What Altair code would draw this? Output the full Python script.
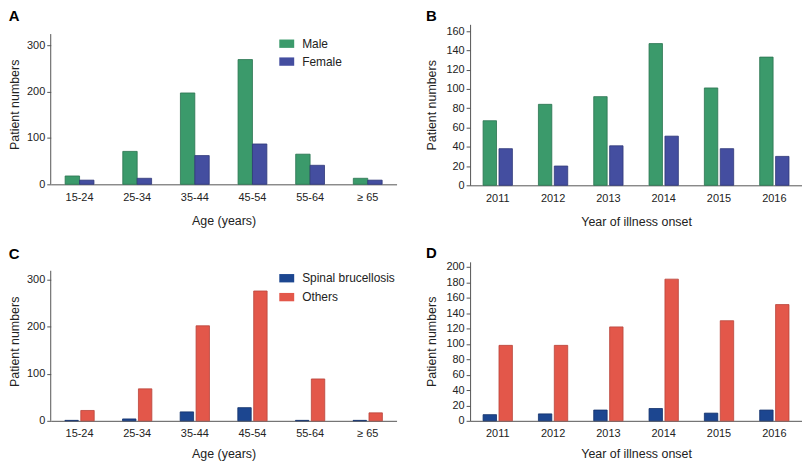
import altair as alt
import pandas as pd

FONT = "Liberation Sans"

age_groups = ["15-24", "25-34", "35-44", "45-54", "55-64", "≥ 65"]
years = ["2011", "2012", "2013", "2014", "2015", "2016"]

sex_names = ["Male", "Female"]
male_by_age = [18, 71, 197, 269, 65, 13]
female_by_age = [9, 13, 62, 87, 41, 9]
male_by_year = [67, 84, 92, 147, 101, 133]
female_by_year = [38, 20, 41, 51, 38, 30]

type_names = ["Spinal brucellosis", "Others"]
spinal_by_age = [1, 4, 19, 28, 1, 1]
others_by_age = [22, 68, 202, 276, 89, 17]
spinal_by_year = [8, 9, 14, 16, 10, 14]
others_by_year = [98, 98, 122, 184, 130, 151]

sex_colors = ["#3b9a6b", "#444ea0"]
sex_strokes = ["#2a7350", "#2f3878"]
type_colors = ["#1c4690", "#e3574a"]
type_strokes = ["#12306a", "#b8443a"]


def panel(cats, names, series, colors, strokes, ymax, ytop, yticks, xtitle,
          letter, width, height, bar_w, bar_shift, ytitle_pad, xtitle_pad, legend=None):
    rows = []
    for n, vals in zip(names, series):
        for c, v in zip(cats, vals):
            rows.append({"cat": c, "series": n, "value": v})
    df = pd.DataFrame(rows)
    base = alt.Chart(df)
    enc = dict(
        x=alt.X("cat:N", sort=cats,
                scale=alt.Scale(paddingInner=0, paddingOuter=0),
                axis=alt.Axis(title=xtitle, labelAngle=0, ticks=False, tickSize=0,
                              labelPadding=7, titlePadding=xtitle_pad)),
        y=alt.Y("value:Q", scale=alt.Scale(domain=[0, ymax], nice=False),
                axis=alt.Axis(values=yticks, title="Patient numbers",
                              domain=(ytop is None), tickSize=4, labelPadding=2,
                              titlePadding=ytitle_pad)),
        color=alt.Color("series:N", sort=names,
                        scale=alt.Scale(domain=names, range=colors),
                        legend=legend),
        stroke=alt.Stroke("series:N", sort=names,
                          scale=alt.Scale(domain=names, range=strokes),
                          legend=None),
    )
    layers = []
    for i, n in enumerate(names):
        shift = -bar_shift if i == 0 else bar_shift
        layers.append(
            base.transform_filter(alt.datum.series == n)
            .mark_bar(width=bar_w, xOffset=shift, strokeWidth=0.8)
            .encode(**enc)
        )
    if ytop is not None:
        axis_line = alt.Chart(pd.DataFrame({"d": [0]})).mark_rule(
            color="#555555", strokeWidth=1).encode(
            x=alt.value(0), y=alt.datum(0), y2=alt.datum(ytop))
        layers.append(axis_line)
    return alt.layer(*layers).properties(
        width=width, height=height,
        title=alt.TitleParams(letter, anchor="start", frame="bounds", fontSize=15,
                              fontWeight="bold", font=FONT, color="black", offset=0),
    )


def make_legend(y, row_pad):
    return alt.Legend(title=None, orient="none", legendX=230, legendY=y,
                      symbolType="M-1,-0.56H1V0.56H-1Z", symbolSize=225,
                      symbolStrokeWidth=0, labelFont=FONT, labelFontSize=12,
                      labelColor="#222222", labelOffset=8, rowPadding=row_pad)


A = panel(age_groups, sex_names, [male_by_age, female_by_age], sex_colors, sex_strokes,
          345, 324, list(range(0, 301, 50)), "Age (years)", "A", 348, 161, 14.5, 7.25, 5, 12,
          legend=make_legend(12, 4))
B = panel(years, sex_names, [male_by_year, female_by_year], sex_colors, sex_strokes,
          167, None, list(range(0, 161, 20)), "Year of illness onset", "B", 334, 162,
          13.5, 8, 7, 12)
C = panel(age_groups, type_names, [spinal_by_age, others_by_age], type_colors, type_strokes,
          338, 319, list(range(0, 301, 50)), "Age (years)", "C", 348, 160, 13.5, 8, 5, 9,
          legend=make_legend(9, 5))
D = panel(years, type_names, [spinal_by_year, others_by_year], type_colors, type_strokes,
          206.5, None, list(range(0, 201, 20)), "Year of illness onset", "D", 334, 160,
          13.5, 8, 7, 9)

row1 = alt.hconcat(A, B, spacing=29).resolve_scale(color="independent", stroke="independent",
                                                    x="independent", y="independent")
row2 = alt.hconcat(C, D, spacing=29).resolve_scale(color="independent", stroke="independent",
                                                    x="independent", y="independent")

chart = alt.vconcat(row1, row2, spacing=18).resolve_scale(
    color="independent", stroke="independent"
).properties(
    padding=0, background="white"
).configure_view(stroke=None).configure_axis(
    domainColor="#555555", tickColor="#555555", labelColor="#222222",
    labelFont=FONT, labelFontSize=11, titleFont=FONT, titleFontSize=12.5,
    titleFontWeight="normal", titleColor="#222222", grid=False
)

chart.save("out.html", embed_options={"renderer": "svg", "actions": False})
